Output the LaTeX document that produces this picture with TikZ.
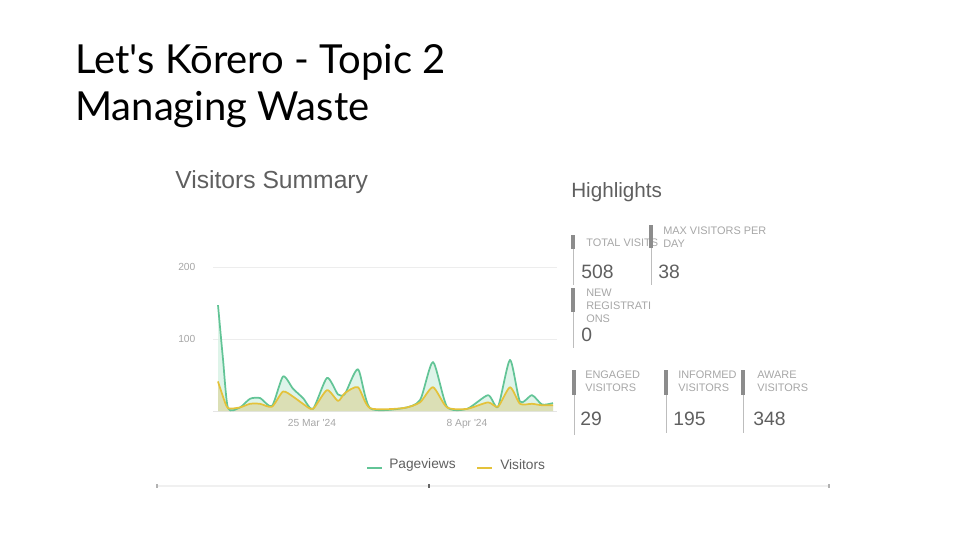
\documentclass[tikz,border=0pt]{standalone}
\usepackage{fontspec}
\setmainfont{Lato}
\newfontfamily\dashfont{Liberation Sans}

\definecolor{pvline}{HTML}{62C496}
\definecolor{pvfill}{HTML}{D6F1E4}
\definecolor{visline}{HTML}{E4C23A}
\definecolor{visfill}{HTML}{D8CF8C}
\definecolor{headgray}{HTML}{5F5F5F}
\definecolor{lblgray}{HTML}{A6A6A6}
\definecolor{bargray}{HTML}{8C8C8C}
\definecolor{rulegray}{HTML}{BDBDBD}

\begin{document}
\begin{tikzpicture}[x=0.75pt, y=-0.75pt,
    lbl/.style={font=\dashfont\fontsize{8.2}{9.8}\selectfont, text=lblgray, anchor=north west, inner sep=0pt, align=left},
    num/.style={font=\dashfont\fontsize{14.5}{16}\selectfont, text=headgray, anchor=base west, inner sep=0pt},
    tick/.style={font=\dashfont\fontsize{7.7}{9}\selectfont, text=lblgray, inner sep=0pt},
    flag/.style={bargray, line width=3pt},
    pole/.style={rulegray, line width=0.7pt}]

    \useasboundingbox (0,0) rectangle (966,543);

    % Title
    \node[anchor=base west, inner sep=0pt, font=\fontsize{30}{36}\selectfont] (title1) at (75,73) {Let\textquotesingle s Kōrero - Topic 2};
    \node[anchor=base west, inner sep=0pt, font=\fontsize{30}{36}\selectfont] (title2) at (75,120) {Managing Waste};

    % Visitors summary
    \node[anchor=base west, inner sep=0pt, text=headgray, font=\dashfont\fontsize{18.5}{20}\selectfont] (summary) at (175,188) {Visitors Summary};

    % Grid
    \draw[black!7, line width=0.6pt] (213,267) -- (557,267);
    \draw[black!7, line width=0.6pt] (213,339) -- (557,339);
    \draw[black!10, line width=0.6pt] (213,411) -- (557,411);
    \node[tick, anchor=west] (y200) at (178,267) {200};
    \node[tick, anchor=west] (y100) at (178,339) {100};
    \node[tick, anchor=base] (x1) at (312,426) {25 Mar \textquotesingle 24};
    \node[tick, anchor=base] (x2) at (467,426) {8 Apr \textquotesingle 24};

    \begin{scope}[shift={(0,411)}, yscale=-0.72]
        \clip (213,0) rectangle (560,170);
        % Pageviews (area)
        \fill[pvfill, opacity=0.8] (218,0) -- plot[smooth, tension=0.4] coordinates {(218,147) (223,72) (228,4) (240,5) (250,17) (260,18) (272,7) (283,48) (293,31) (303,18) (313,3) (327,46) (338,23) (345,24) (358,58) (370,4) (403,4) (420,15) (433,68) (447,6) (467,3) (488,22) (498,6) (510,71) (520,13) (532,22) (542,9) (553,11)} -- (553,0) -- cycle;
        % Visitors (area)
        \fill[visfill, opacity=0.55] (218,0) -- plot[smooth, tension=0.4] coordinates {(218,41) (223,20) (228,4) (240,5) (250,10) (260,10) (272,6) (283,27) (293,20) (303,10) (313,3) (327,29) (338,14) (345,25) (358,33) (370,4) (403,4) (420,12) (433,33) (447,5) (467,3) (488,12) (498,6) (510,33) (520,10) (532,10) (542,8) (553,8)} -- (553,0) -- cycle;
        % Curves
        \draw[pvline, line width=1.3pt, line join=round] plot[smooth, tension=0.4] coordinates {(218,147) (223,72) (228,4) (240,5) (250,17) (260,18) (272,7) (283,48) (293,31) (303,18) (313,3) (327,46) (338,23) (345,24) (358,58) (370,4) (403,4) (420,15) (433,68) (447,6) (467,3) (488,22) (498,6) (510,71) (520,13) (532,22) (542,9) (553,11)};
        \draw[visline, line width=1.3pt, line join=round] plot[smooth, tension=0.4] coordinates {(218,41) (223,20) (228,4) (240,5) (250,10) (260,10) (272,6) (283,27) (293,20) (303,10) (313,3) (327,29) (338,14) (345,25) (358,33) (370,4) (403,4) (420,12) (433,33) (447,5) (467,3) (488,12) (498,6) (510,33) (520,10) (532,10) (542,8) (553,8)};
    \end{scope}

    % Legend
    \draw[pvline, line width=2pt] (367,468) -- (382,468);
    \node[anchor=west, inner sep=0pt, text=headgray, font=\dashfont\fontsize{10.3}{12}\selectfont] (legpv) at (389,465) {Pageviews};
    \draw[visline, line width=2pt] (477,468) -- (492,468);
    \node[anchor=west, inner sep=0pt, text=headgray, font=\dashfont\fontsize{10.3}{12}\selectfont] (legvis) at (500,465) {Visitors};

    % Highlights
    \node[anchor=base west, inner sep=0pt, text=headgray, font=\dashfont\fontsize{15.5}{18}\selectfont] (highlights) at (571,197) {Highlights};

    \node[lbl, anchor=base west] (totlbl) at (586,246) {TOTAL VISITS};
    \node[num] (totnum) at (581,278) {508};
    \draw[pole] (573,235) -- (573,285);
    \draw[flag] (573,235) -- (573,249);

    \node[lbl] (maxlbl) at (663,227) {MAX VISITORS PER\\DAY};
    \node[num] (maxnum) at (658,278) {38};
    \draw[pole] (651,225) -- (651,285);
    \draw[flag] (651,225) -- (651,248);

    \node[lbl] (reglbl) at (586,289) {NEW\\REGISTRATI\\ONS};
    \node[num] (regnum) at (581,341) {0};
    \draw[pole] (573,288) -- (573,348);
    \draw[flag] (573,288) -- (573,312);

    \node[lbl] (englbl) at (585,371) {ENGAGED\\VISITORS};
    \node[num] (engnum) at (580,425) {29};
    \draw[pole] (574,370) -- (574,435);
    \draw[flag] (574,370) -- (574,395);

    \node[lbl] (inflbl) at (678,371) {INFORMED\\VISITORS};
    \node[num] (infnum) at (673,425) {195};
    \draw[pole] (666,370) -- (666,433);
    \draw[flag] (666,370) -- (666,395);

    \node[lbl] (awalbl) at (757,371) {AWARE\\VISITORS};
    \node[num] (awanum) at (753,425) {348};
    \draw[pole] (743,370) -- (743,433);
    \draw[flag] (743,370) -- (743,395);

    % Bottom rule
    \draw[black!6, line width=0.8pt] (157,486) -- (830,486);
    \draw[black!30, line width=0.8pt] (157,484) -- (157,488);
    \draw[black!60, line width=1pt] (429,484) -- (429,488);
    \draw[black!30, line width=0.8pt] (829,484) -- (829,488);

\end{tikzpicture}
\end{document}
